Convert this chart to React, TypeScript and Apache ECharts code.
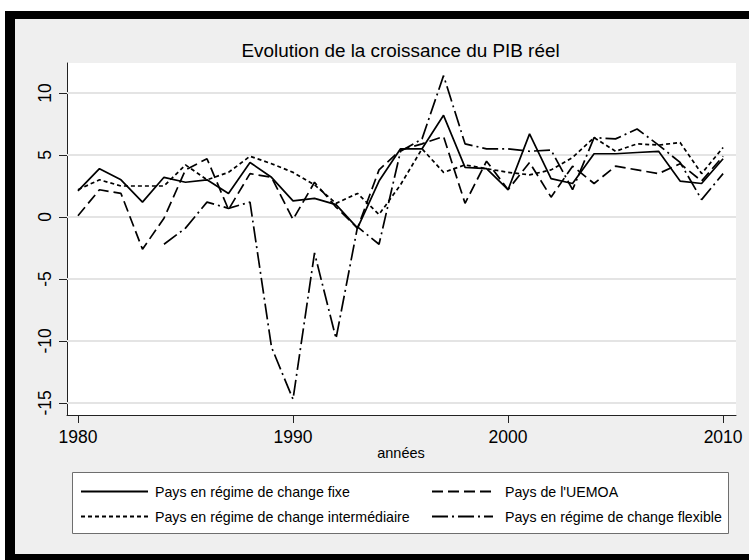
import React, { useEffect, useRef } from "react";
import * as echarts from "echarts";

const years = [1980, 1981, 1982, 1983, 1984, 1985, 1986, 1987, 1988, 1989, 1990, 1991, 1992, 1993, 1994, 1995, 1996, 1997, 1998, 1999, 2000, 2001, 2002, 2003, 2004, 2005, 2006, 2007, 2008, 2009, 2010];
const fixe = [2.1, 3.9, 3.0, 1.2, 3.2, 2.8, 3.0, 1.9, 4.4, 3.2, 1.3, 1.5, 1.0, -0.9, 2.9, 5.5, 5.5, 8.2, 4.0, 3.9, 2.2, 6.7, 3.1, 2.7, 5.1, 5.1, 5.2, 5.3, 2.9, 2.7, 4.7];
const uemoa = [0.1, 2.2, 1.9, -2.6, -0.1, 3.8, 4.7, 0.6, 3.5, 3.2, -0.2, 2.8, 0.8, -0.9, 3.8, 5.4, 5.9, 6.5, 1.1, 4.5, 2.2, 4.4, 1.6, 4.1, 2.7, 4.1, 3.8, 3.5, 4.3, 2.9, 4.9];
const intermediaire = [2.2, 3.0, 2.5, 2.5, 2.5, 4.2, 3.0, 3.6, 4.9, 4.3, 3.6, 2.6, 1.1, 1.9, 0.2, 2.6, 5.5, 3.6, 4.2, 3.9, 3.6, 3.4, 3.8, 4.8, 6.4, 5.3, 5.9, 5.8, 6.0, 3.5, 5.6];
const flexible: (number | null)[] = [null, null, null, null, -2.2, -0.9, 1.2, 0.7, 1.2, -10.5, -14.7, -2.9, -9.8, -0.8, -2.2, 5.3, 6.3, 11.4, 5.9, 5.5, 5.5, 5.3, 5.4, 2.2, 6.4, 6.3, 7.1, 5.8, 4.4, 1.4, 3.5];

const xTicks = [1980, 1990, 2000, 2010];
const yTicks = [-15, -10, -5, 0, 5, 10];
const seriesNames = [
  "Pays en régime de change fixe",
  "Pays de l'UEMOA",
  "Pays en régime de change intermédiaire",
  "Pays en régime de change flexible",
];
const titleText = "Evolution de la croissance du PIB réel";
const xAxisTitle = "années";

const FONT = "'Liberation Sans', Arial, sans-serif";

function pairs(vals: (number | null)[]) {
  const out: number[][] = [];
  years.forEach((y, i) => {
    const v = vals[i];
    if (v !== null && v !== undefined) out.push([y, v]);
  });
  return out;
}

export default function App() {
  const ref = useRef<HTMLDivElement>(null);
  useEffect(() => {
    if (!ref.current) return;
    const chart = echarts.init(ref.current, undefined, { renderer: "svg" });
    const lineBase = (name: string, vals: (number | null)[], type: any) => ({
      name,
      type: "line",
      data: pairs(vals),
      symbol: "none",
      showSymbol: false,
      silent: true,
      z: 3,
      color: "#000",
      itemStyle: { color: "#000" },
      lineStyle: { color: "#000", width: 1.7, type },
    });
    const legendCommon = {
      orient: "vertical",
      top: 484.5,
      padding: 0,
      itemHeight: 14,
      itemGap: 11,
      selectedMode: false,
      itemStyle: { color: "rgba(0,0,0,0)", borderWidth: 0, opacity: 0 },
    };
    const option: any = {
      animation: false,
      backgroundColor: "#ffffff",
      textStyle: { fontFamily: FONT },
      grid: {
        left: 67,
        top: 63,
        width: 669,
        height: 352,
        show: true,
        backgroundColor: "#ffffff",
        borderWidth: 0,
        containLabel: false,
        outerBoundsMode: "none",
      },
      xAxis: {
        type: "value",
        min: 1979.49,
        max: 2010.6,
        splitLine: { show: false },
        axisLine: { show: true, onZero: false, lineStyle: { color: "#222", width: 1 } },
        axisTick: { show: true, customValues: xTicks, length: 8, lineStyle: { color: "#222", width: 1 } },
        axisLabel: {
          customValues: xTicks,
          margin: 13,
          fontSize: 17.5,
          color: "#000",
          fontFamily: FONT,
          formatter: (v: number) => String(v),
        },
      },
      yAxis: {
        type: "value",
        min: -15.97,
        max: 12.42,
        splitLine: { show: false },
        axisLine: { show: true, onZero: false, lineStyle: { color: "#222", width: 1 } },
        axisTick: { show: true, customValues: yTicks, length: 8, lineStyle: { color: "#222", width: 1 } },
        axisLabel: {
          customValues: yTicks,
          rotate: 90,
          margin: 13,
          fontSize: 17.5,
          color: "#000",
          fontFamily: FONT,
          formatter: (v: number) => String(v),
        },
      },
      legend: [
        {
          ...legendCommon,
          data: [seriesNames[0], seriesNames[2]],
          left: 80,
          itemWidth: 67,
          textStyle: { fontSize: 14.2, color: "#000", fontFamily: FONT, padding: [0, 0, 0, 2] },
        },
        {
          ...legendCommon,
          data: [seriesNames[1], seriesNames[3]],
          left: 431,
          itemWidth: 61,
          textStyle: { fontSize: 14.2, color: "#000", fontFamily: FONT, padding: [0, 0, 0, 7] },
        },
      ],
      graphic: {
        elements: [
          { type: "rect", z: -100, silent: true, shape: { x: 15, y: 19, width: 734, height: 535 }, style: { fill: "#efefef" } },
          { type: "rect", z: -99, silent: true, shape: { x: 5, y: 11, width: 744, height: 8 }, style: { fill: "#000" } },
          { type: "rect", z: -99, silent: true, shape: { x: 5, y: 11, width: 10, height: 549 }, style: { fill: "#000" } },
          { type: "rect", z: -99, silent: true, shape: { x: 5, y: 554, width: 744, height: 6 }, style: { fill: "#000" } },
          {
            type: "rect",
            z: -98,
            silent: true,
            shape: { x: 72.5, y: 472.5, width: 656, height: 61 },
            style: { fill: "#ffffff", stroke: "#6e6e6e", lineWidth: 1 },
          },
          {
            type: "text",
            x: 400.5,
            y: 50.2,
            silent: true,
            style: { text: titleText, fontSize: 18.9, fontFamily: FONT, fill: "#000", align: "center", verticalAlign: "middle" },
          },
          {
            type: "text",
            x: 401,
            y: 453,
            silent: true,
            style: { text: xAxisTitle, fontSize: 14.5, fontFamily: FONT, fill: "#000", align: "center", verticalAlign: "middle" },
          },
        ],
      },
      series: [
        {
          name: "gridlines",
          type: "line",
          data: [[1980, 0]],
          symbol: "none",
          silent: true,
          z: 1,
          lineStyle: { opacity: 0 },
          markLine: {
            silent: true,
            z: 1,
            symbol: ["none", "none"],
            label: { show: false },
            lineStyle: { color: "#e4e4e4", width: 2, type: "solid" },
            data: yTicks.map((v) => ({ yAxis: v })),
          },
        },
        lineBase(seriesNames[0], fixe, "solid"),
        lineBase(seriesNames[1], uemoa, [11, 5]),
        lineBase(seriesNames[2], intermediaire, [4, 3]),
        lineBase(seriesNames[3], flexible, [16, 4, 2, 4]),
      ],
    };
    chart.setOption(option);
    return () => chart.dispose();
  }, []);
  return (
    <div
      ref={ref}
      style={{ position: "fixed", left: 0, top: 0, width: 749, height: 560 }}
    />
  );
}
